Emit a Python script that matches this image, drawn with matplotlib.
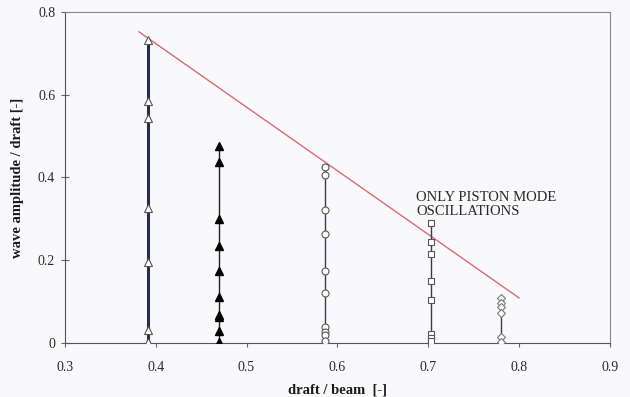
import matplotlib
matplotlib.use("Agg")
import matplotlib.pyplot as plt
from matplotlib.ticker import FuncFormatter

# draft / beam ratio of each tested section
x_tri_open = 0.391
x_tri_fill = 0.470
x_circle = 0.586
x_square = 0.703
x_diamond = 0.780

# measured wave amplitude / draft at each ratio
y_tri_open = [0.732, 0.585, 0.543, 0.326, 0.196, 0.031, 0.003]
y_tri_fill = [0.475, 0.437, 0.300, 0.235, 0.175, 0.112, 0.068, 0.062, 0.028, 0.002]
y_circle = [0.426, 0.406, 0.321, 0.263, 0.174, 0.121, 0.039, 0.027, 0.019, 0.005]
y_square = [0.290, 0.244, 0.215, 0.150, 0.104, 0.022, 0.012, 0.005]
y_diamond = [0.109, 0.097, 0.087, 0.072, 0.015, 0.003]

# upper limit line for piston-mode-only oscillations
limit_x = [0.3815, 0.800]
limit_y = [0.752, 0.109]

x_ticks = [0.3, 0.4, 0.5, 0.6, 0.7, 0.8, 0.9]
y_ticks = [0, 0.2, 0.4, 0.6, 0.8]

serif = ["Liberation Serif", "DejaVu Serif"]

fig = plt.figure(figsize=(6.3, 3.97), dpi=100)
fig.patch.set_facecolor("#f9f9fb")
ax = fig.add_axes([0.103, 0.136, 0.865, 0.834])
ax.set_facecolor("#f9f9fb")

line_col = "#3a3a55"

ax.plot([x_tri_open] * len(y_tri_open), y_tri_open, color="#2a2a4a", lw=2.2,
        marker="^", ms=6, mfc="white", mec="#555555", mew=0.8, zorder=3)
ax.plot([x_tri_fill] * len(y_tri_fill), y_tri_fill, color="#222222", lw=1.0,
        marker="^", ms=6, mfc="black", mec="black", zorder=3)
ax.plot([x_circle] * len(y_circle), y_circle, color=line_col, lw=1.0,
        marker="o", ms=5, mfc="white", mec="#555555", mew=0.8, zorder=3)
ax.plot([x_square] * len(y_square), y_square, color=line_col, lw=1.0,
        marker="s", ms=5, mfc="white", mec="#555555", mew=0.8, zorder=3)
ax.plot([x_diamond] * len(y_diamond), y_diamond, color=line_col, lw=1.0,
        marker="D", ms=4, mfc="white", mec="#777777", mew=0.8, zorder=3)

ax.plot(limit_x, limit_y, color="#d46a78", lw=1.0, zorder=2)

ax.text(0.687, 0.368, "ONLY PISTON MODE\nOSCILLATIONS", family=serif,
        fontsize=10.5, color="#2a2a2a", va="top", ha="left", linespacing=1.15)

ax.set_xlim(0.3, 0.9)
ax.set_ylim(0, 0.8)
ax.set_xticks(x_ticks)
ax.set_yticks(y_ticks)
ax.xaxis.set_major_formatter(FuncFormatter(lambda v, p: f"{v:.1f}"))
ax.yaxis.set_major_formatter(FuncFormatter(lambda v, p: "0" if v == 0 else f"{v:.1f}"))

for lab in ax.get_xticklabels() + ax.get_yticklabels():
    lab.set_family(serif)
    lab.set_fontsize(10)
    lab.set_color("#2a2a2a")

ax.tick_params(axis="y", direction="inout", length=6, width=0.8, color="#666666", pad=4)
ax.tick_params(axis="x", direction="out", length=3, width=0.8, color="#666666", pad=10)
for s in ax.spines.values():
    s.set_color("#888888")
    s.set_linewidth(0.8)
ax.spines["left"].set_color("#555555")
ax.spines["bottom"].set_color("#555555")

ax.set_xlabel("draft / beam  [-]", family=serif, fontsize=10.5, fontweight="bold",
              color="#1a1a1a", labelpad=7)
ax.set_ylabel("wave amplitude / draft [-]", family=serif, fontsize=10.5,
              fontweight="bold", color="#1a1a1a", labelpad=10)

fig.savefig("out.png", dpi=100, facecolor=fig.get_facecolor())
